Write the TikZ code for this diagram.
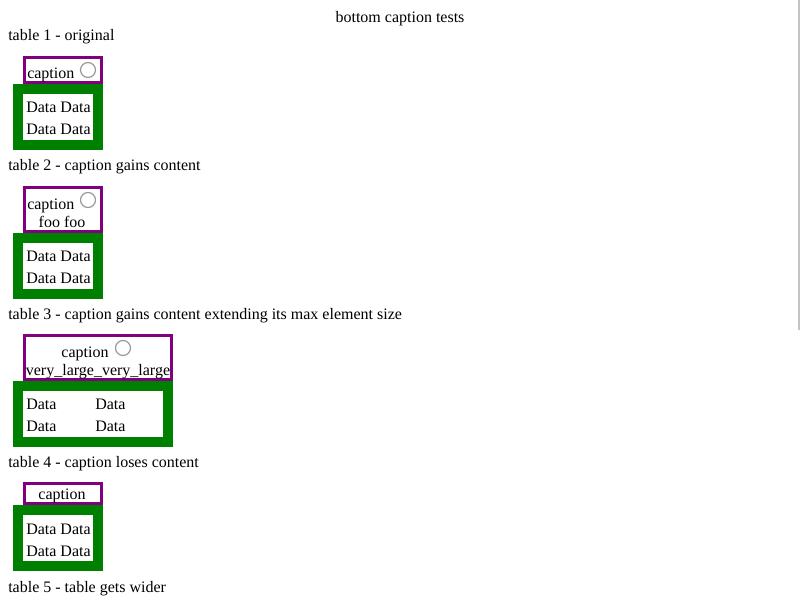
\documentclass[tikz,border=0pt]{standalone}
\usepackage{fontspec}
\setmainfont{Liberation Serif}
\definecolor{cappurple}{HTML}{800080}
\definecolor{tabgreen}{HTML}{008000}
\definecolor{ringgray}{HTML}{999999}
\definecolor{barggray}{HTML}{C4C4C4}
\begin{document}
\begin{tikzpicture}[x=0.75pt,y=-0.75pt,
  txt/.style={inner sep=0pt,font=\fontsize{12pt}{14pt}\selectfont,anchor=base west},
  ctxt/.style={txt,anchor=base},
  capbox/.style={draw=cappurple,line width=2.25pt},
  tabbox/.style={draw=tabgreen,line width=7.5pt},
  ring/.style={draw=ringgray,line width=0.9pt}]
\useasboundingbox[fill=white] (0,0) rectangle (800,600);
\fill[barggray] (798,0) rectangle (800,330);
\node[ctxt] (title) at (400,22) {bottom caption tests};
% table 1
\node[txt] (l1) at (8,40) {table 1 - original};
\draw[capbox] (24.5,57.5) rectangle (101.5,82.5);
\node[txt] (c1) at (27,78) {caption};
\draw[ring] (88,70) circle (7.5);
\draw[tabbox] (18,89) rectangle (98,145);
\node[txt] (d1a) at (26,112) {Data Data};
\node[txt] (d1b) at (26,134) {Data Data};
% table 2
\node[txt] (l2) at (8,170) {table 2 - caption gains content};
\draw[capbox] (24.5,187.5) rectangle (101.5,231.5);
\node[txt] (c2) at (27,209) {caption};
\draw[ring] (88,200) circle (7.5);
\node[ctxt] (f2) at (62,227) {foo foo};
\draw[tabbox] (18,238) rectangle (98,294);
\node[txt] (d2a) at (26,261) {Data Data};
\node[txt] (d2b) at (26,283) {Data Data};
% table 3
\node[txt] (l3) at (8,319) {table 3 - caption gains content extending its max element size};
\draw[capbox] (24.5,335.5) rectangle (171.5,379.5);
\node[ctxt] (c3) at (85,357) {caption};
\draw[ring] (123,348) circle (7.5);
\node[ctxt] (v3) at (98,375) {very\_large\_very\_large};
\draw[tabbox] (18,386) rectangle (168,442);
\node[txt] (d3a) at (26,409) {Data};
\node[txt] (d3b) at (95,409) {Data};
\node[txt] (d3c) at (26,431) {Data};
\node[txt] (d3d) at (95,431) {Data};
% table 4
\node[txt] (l4) at (8,467) {table 4 - caption loses content};
\draw[capbox] (24.5,483.5) rectangle (101.5,503.5);
\node[ctxt] (c4) at (62,499) {caption};
\draw[tabbox] (18,510) rectangle (98,566);
\node[txt] (d4a) at (26,534) {Data Data};
\node[txt] (d4b) at (26,556) {Data Data};
% table 5
\node[txt] (l5) at (8,592) {table 5 - table gets wider};
\end{tikzpicture}
\end{document}
